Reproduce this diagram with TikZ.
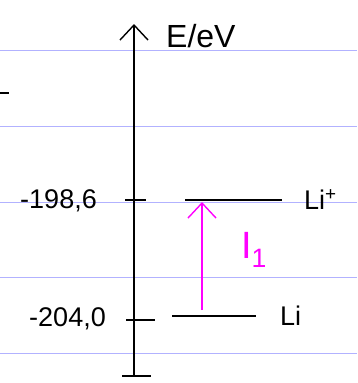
\documentclass[tikz,border=0pt]{standalone}
\usepackage{fontspec}
\setmainfont{Liberation Sans}
\usetikzlibrary{arrows.meta, positioning}
\definecolor{pen}{RGB}{255,0,255}

\begin{document}
\begin{tikzpicture}[
    x=1pt, y=-1pt,
    barb/.style={-{Straight Barb[length=15pt, width=28pt, line width=1.4pt]}},
    ruling/.style={blue!30, line width=0.8pt},
    axis/.style={barb, line width=1.6pt},
    level/.style={line width=1.8pt},
    tick/.style={line width=1.4pt},
    ionarrow/.style={barb, pen, line width=1.6pt},
    label/.style={font=\fontsize{27}{30}\selectfont, inner sep=0pt}
]
\useasboundingbox (0,0) rectangle (357,383);

% ruled paper
\foreach \y in {50,126,202,277,353} {
    \draw[ruling] (0,\y) -- (357,\y);
}
\draw[line width=1.4pt] (0,93) -- (9,93);

% energy axis
\coordinate (bottom) at (134,376);
\coordinate (top) at (134,24);
\draw[axis] (bottom) -- (top);
\draw[line width=1.6pt] (122,376) -- (151,376);
\node[label, font=\fontsize{32}{36}\selectfont, anchor=west] (unit) at (166,36) {E/eV};

% ticks and values
\draw[tick] (125,200) -- (146,200);
\draw[tick] (126,320) -- (155,320);
\node[label, anchor=east] (v1) at (97,201) {-198,6};
\node[label, anchor=east] (v2) at (106,319) {-204,0};

% levels
\coordinate (ionL) at (185,200);
\coordinate (ionR) at (282,200);
\coordinate (atomL) at (172,316);
\coordinate (atomR) at (256,316);
\draw[level] (ionL) -- (ionR);
\draw[level] (atomL) -- (atomR);
\node[label, right=22pt of ionR] (ion) {Li\textsuperscript{+}};
\node[label, right=24pt of atomR] (atom) {Li};

% ionisation energy
\coordinate (start) at (202,310);
\coordinate (end) at (202,202);
\draw[ionarrow] (start) -- (end);
\node[label, text=pen, font=\fontsize{38}{40}\selectfont] (ie) at (254,250) {I\textsubscript{1}};

\end{tikzpicture}
\end{document}
